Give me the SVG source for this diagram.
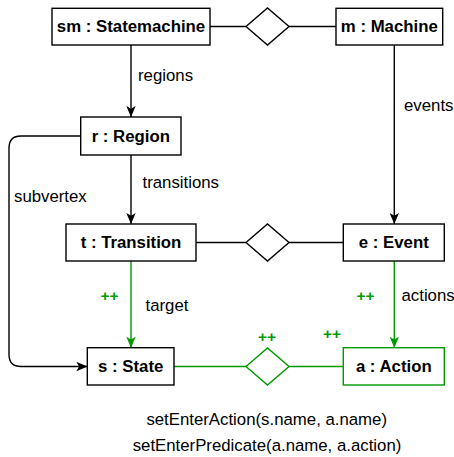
<svg xmlns="http://www.w3.org/2000/svg" width="454" height="457" viewBox="0 0 454 457">
  <style>
    .box { fill: #ffffff; stroke: #000000; stroke-width: 1.4; }
    .box.g { stroke: #009900; }
    .title { font-family: "Liberation Sans", Arial, sans-serif; font-size: 16.8px; font-weight: bold; fill: #000000; text-anchor: middle; dominant-baseline: central; }
    .lbl { font-family: "Liberation Sans", Arial, sans-serif; font-size: 16.8px; fill: #000000; dominant-baseline: central; }
    .plus { font-family: "Liberation Sans", Arial, sans-serif; font-size: 15.5px; font-weight: bold; fill: #009900; dominant-baseline: central; }
    .edge { fill: none; stroke: #000000; stroke-width: 1.4; }
    .edge.g { stroke: #009900; }
    .dia { fill: #ffffff; stroke: #000000; stroke-width: 1.4; }
    .dia.g { stroke: #009900; }
  </style>
  <defs>
    <marker id="arrow" viewBox="0 0 11 10" refX="11" refY="5" markerWidth="11" markerHeight="10" markerUnits="userSpaceOnUse" orient="auto">
      <path d="M0,0.3 L11,5 L0,9.7 L2.8,5 z" fill="#000000"/>
    </marker>
    <marker id="arrowG" viewBox="0 0 11 10" refX="11" refY="5" markerWidth="11" markerHeight="10" markerUnits="userSpaceOnUse" orient="auto">
      <path d="M0,0.3 L11,5 L0,9.7 L2.8,5 z" fill="#009900"/>
    </marker>
  </defs>

  <g id="connectors">
    <!-- sm / m association with diamond -->
    <line class="edge" x1="210" y1="26.5" x2="246" y2="26.5"/>
    <line class="edge" x1="289" y1="26.5" x2="336" y2="26.5"/>
    <polygon class="dia" points="246,26.5 267.5,8 289,26.5 267.5,45"/>
    <!-- regions -->
    <line class="edge" x1="131" y1="45" x2="131" y2="117" marker-end="url(#arrow)"/>
    <text class="lbl" x="138" y="75.5">regions</text>
    <!-- events -->
    <line class="edge" x1="394.3" y1="45" x2="394.3" y2="224" marker-end="url(#arrow)"/>
    <text class="lbl" x="404" y="105">events</text>
    <!-- transitions -->
    <line class="edge" x1="131" y1="155" x2="131" y2="224" marker-end="url(#arrow)"/>
    <text class="lbl" x="142.5" y="182.5">transitions</text>
    <!-- subvertex -->
    <path class="edge" d="M80.7,136 H21 Q9,136 9,148 V354.5 Q9,366.5 21,366.5 H87.3" marker-end="url(#arrow)"/>
    <text class="lbl" x="14" y="196.5">subvertex</text>
    <!-- t / e association with diamond -->
    <line class="edge" x1="196" y1="242.5" x2="246" y2="242.5"/>
    <line class="edge" x1="289" y1="242.5" x2="343.3" y2="242.5"/>
    <polygon class="dia" points="246,242.5 267.5,224 289,242.5 267.5,261"/>
    <!-- target (created) -->
    <line class="edge g" x1="131" y1="261" x2="131" y2="347.7" marker-end="url(#arrowG)"/>
    <text class="plus" x="100.5" y="295">++</text>
    <text class="lbl" x="145.5" y="305">target</text>
    <!-- actions (created) -->
    <line class="edge g" x1="394.3" y1="261" x2="394.3" y2="347.7" marker-end="url(#arrowG)"/>
    <text class="plus" x="356.5" y="295">++</text>
    <text class="lbl" x="401.5" y="295.5">actions</text>
    <!-- s / a association with diamond (created) -->
    <line class="edge g" x1="174" y1="366.5" x2="246" y2="366.5"/>
    <line class="edge g" x1="289" y1="366.5" x2="343.3" y2="366.5"/>
    <polygon class="dia g" points="246,366.5 267.5,348 289,366.5 267.5,385"/>
    <text class="plus" x="258" y="336.5">++</text>
    <text class="plus" x="323" y="333">++</text>
  </g>

  <g id="sm">
    <rect class="box" x="52" y="8.3" width="158" height="36.7"/>
    <text class="title" x="131" y="26.7">sm : Statemachine</text>
  </g>
  <g id="m">
    <rect class="box" x="336" y="8.3" width="106.7" height="36.7"/>
    <text class="title" x="389.3" y="26.7">m : Machine</text>
  </g>
  <g id="r">
    <rect class="box" x="80.7" y="117" width="100.3" height="38"/>
    <text class="title" x="130.8" y="136">r : Region</text>
  </g>
  <g id="t">
    <rect class="box" x="66" y="224" width="130" height="37"/>
    <text class="title" x="131" y="242.5">t : Transition</text>
  </g>
  <g id="e">
    <rect class="box" x="343.3" y="224" width="101" height="37"/>
    <text class="title" x="393.8" y="242.5">e : Event</text>
  </g>
  <g id="s">
    <rect class="box" x="87.3" y="347.7" width="86.7" height="37.3"/>
    <text class="title" x="130.7" y="366.5">s : State</text>
  </g>
  <g id="a">
    <rect class="box g" x="343.3" y="347.7" width="101" height="37.3"/>
    <text class="title" x="393.8" y="366.5">a : Action</text>
  </g>

  <g id="operations">
    <text class="lbl" x="266.7" y="419" text-anchor="middle">setEnterAction(s.name, a.name)</text>
    <text class="lbl" x="267" y="445" text-anchor="middle">setEnterPredicate(a.name, a.action)</text>
  </g>
</svg>
